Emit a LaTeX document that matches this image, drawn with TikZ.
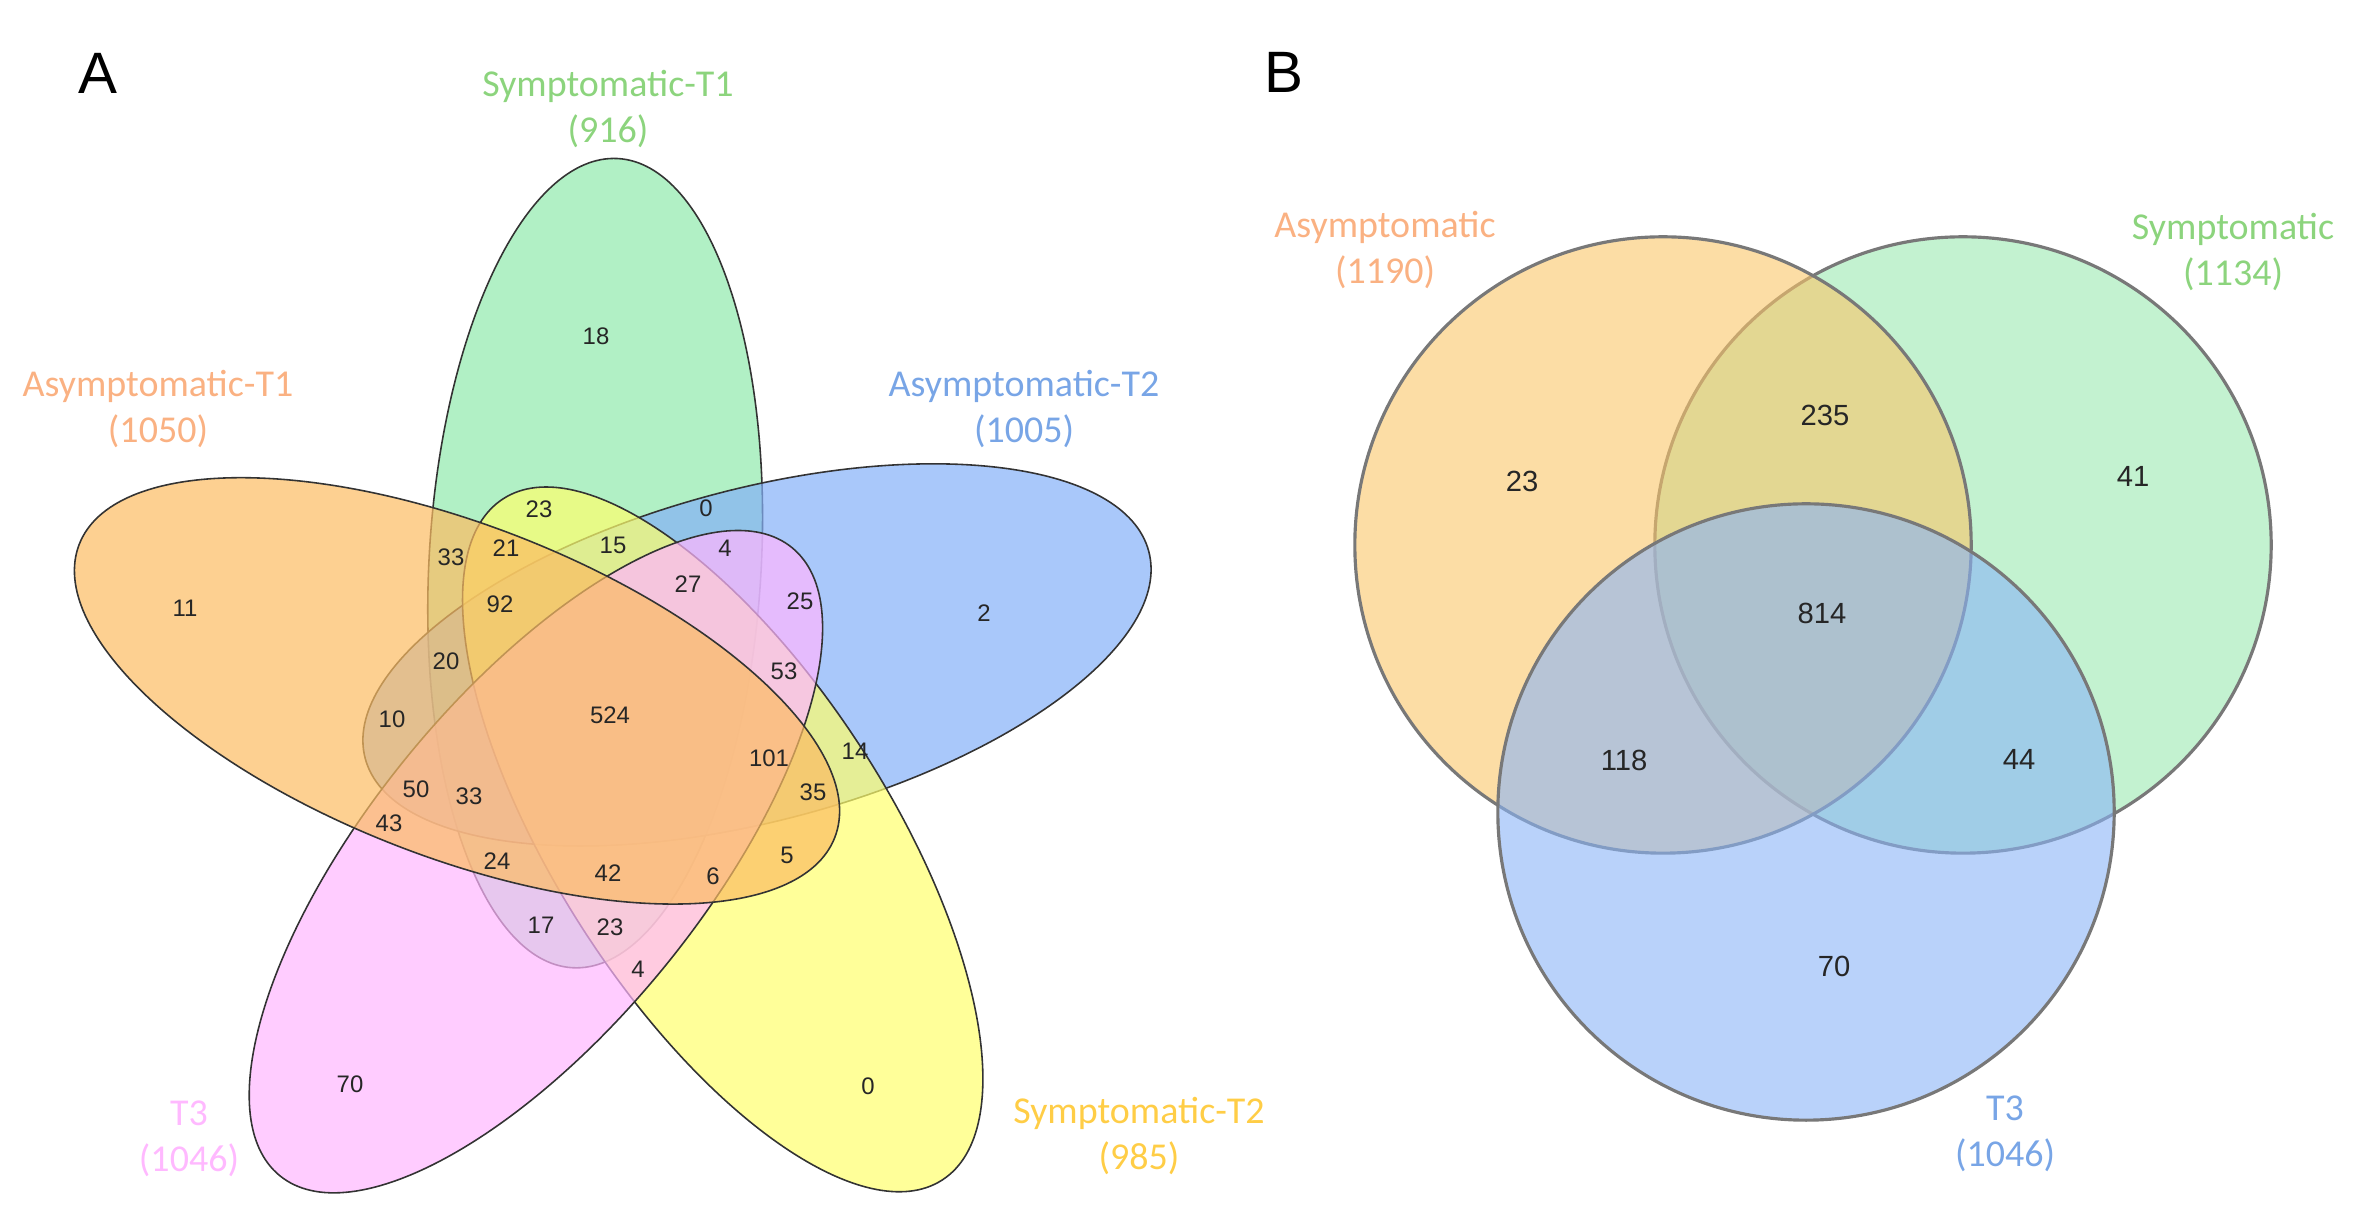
\documentclass[tikz,border=0pt]{standalone}
\usepackage{fontspec}
\setmainfont{Carlito}
\newfontfamily\numfont{Liberation Sans}

\definecolor{asymfill}{RGB}{252,188,98}
\definecolor{symfill}{RGB}{144,234,172}
\definecolor{asymtwofill}{RGB}{132,176,248}
\definecolor{symtwofill}{RGB}{255,255,109}
\definecolor{tthreefill}{RGB}{255,182,255}
\definecolor{asymtext}{RGB}{250,177,130}
\definecolor{symtext}{RGB}{140,212,125}
\definecolor{asymtwotext}{RGB}{120,165,230}
\definecolor{symtwotext}{RGB}{255,205,70}
\definecolor{tthreetext}{RGB}{255,185,255}
\definecolor{borderB}{RGB}{120,120,120}
\definecolor{orangeB}{RGB}{250,198,105}
\definecolor{greenB}{RGB}{155,233,177}
\definecolor{blueB}{RGB}{138,180,247}

\begin{document}
\begin{tikzpicture}[x=0.01cm,y=0.01cm,
    petal/.style={draw=black!80,line width=0.45pt,fill opacity=0.7},
    disc/.style={draw=borderB,line width=0.9pt,fill opacity=0.6},
    setlab/.style={font=\fontsize{10.8}{13.1}\selectfont,align=center},
    cnt/.style={font=\numfont\fontsize{6.8}{8}\selectfont,text=black!85},
    cntB/.style={font=\numfont\fontsize{8.3}{10}\selectfont,text=black!85},
    panel/.style={font=\numfont\fontsize{16.6}{20}\selectfont}]
\useasboundingbox (0,0) rectangle (2355,1222);

% A: five sets
\coordinate (ctrA) at (614,500);
\coordinate (asymT1) at (457.0,531.1);
\coordinate (symT1)  at (595.1,658.9);
\coordinate (asymT2) at (757.0,567.1);
\coordinate (symT2)  at (722.7,382.6);
\coordinate (tthree) at (535.9,360.3);

\draw[petal,fill=symfill,rotate around={86.8:(symT1)}] (symT1) ellipse [x radius=4.05cm,y radius=1.66cm];
\draw[petal,fill=asymtwofill,rotate around={14.8:(asymT2)}] (asymT2) ellipse [x radius=4.05cm,y radius=1.66cm];
\draw[petal,fill=symtwofill,rotate around={-57.2:(symT2)}] (symT2) ellipse [x radius=4.05cm,y radius=1.66cm];
\draw[petal,fill=tthreefill,rotate around={-129.2:(tthree)}] (tthree) ellipse [x radius=4.05cm,y radius=1.66cm];
\draw[petal,fill=asymfill,rotate around={158.8:(asymT1)}] (asymT1) ellipse [x radius=4.05cm,y radius=1.66cm];

\node[panel] (panA) at (98,1149) {A};
\node[setlab,text=symtext] (labSymT1) at (608,1113) {Symptomatic-T1\\(916)};
\node[setlab,text=asymtext] (labAsymT1) at (158,813) {Asymptomatic-T1\\(1050)};
\node[setlab,text=asymtwotext] (labAsymT2) at (1024,813) {Asymptomatic-T2\\(1005)};
\node[setlab,text=tthreetext] (labTthree) at (189,83) {T3\\(1046)};
\node[setlab,text=symtwotext] (labSymT2) at (1139,86) {Symptomatic-T2\\(985)};

\node[cnt] (n18) at (596,886) {18};
\node[cnt] (n11) at (185,614) {11};
\node[cnt] (n2) at (984,609) {2};
\node[cnt] (n70) at (350,138) {70};
\node[cnt] (n0y) at (868,136) {0};
\node[cnt] (n23t) at (539,713) {23};
\node[cnt] (n0b) at (706,714) {0};
\node[cnt] (n33a) at (451,665) {33};
\node[cnt] (n21) at (506,674) {21};
\node[cnt] (n15) at (613,677) {15};
\node[cnt] (n4a) at (725,674) {4};
\node[cnt] (n27) at (688,638) {27};
\node[cnt] (n25) at (800,621) {25};
\node[cnt] (n92) at (500,618) {92};
\node[cnt] (n20) at (446,561) {20};
\node[cnt] (n53) at (784,551) {53};
\node[cnt] (n10) at (392,503) {10};
\node[cnt] (n524) at (610,507) {524};
\node[cnt] (n101) at (769,464) {101};
\node[cnt] (n14) at (855,471) {14};
\node[cnt] (n50) at (416,433) {50};
\node[cnt] (n33b) at (469,426) {33};
\node[cnt] (n35) at (813,430) {35};
\node[cnt] (n43) at (389,399) {43};
\node[cnt] (n24) at (497,361) {24};
\node[cnt] (n42) at (608,349) {42};
\node[cnt] (n6) at (713,346) {6};
\node[cnt] (n5) at (787,367) {5};
\node[cnt] (n17) at (541,297) {17};
\node[cnt] (n23b) at (610,295) {23};
\node[cnt] (n4b) at (638,253) {4};

% B: three sets
\coordinate (asymB) at (1663,677);
\coordinate (symB) at (1963,677);
\coordinate (tthreeB) at (1806,410);

\draw[disc,fill=greenB] (symB) circle [radius=3.08cm];
\draw[disc,fill=orangeB] (asymB) circle [radius=3.08cm];
\draw[disc,fill=blueB] (tthreeB) circle [radius=3.08cm];

\node[panel] (panB) at (1284,1150) {B};
\node[setlab,text=asymtext] (labAsymB) at (1385,972) {Asymptomatic\\(1190)};
\node[setlab,text=symtext] (labSymB) at (2233,970) {Symptomatic\\(1134)};
\node[setlab,text=asymtwotext] (labTthreeB) at (2005,88) {T3\\(1046)};

\node[cntB] (m814) at (1822,609) {814};
\node[cntB] (m235) at (1825,807) {235};
\node[cntB] (m23) at (1522,741) {23};
\node[cntB] (m41) at (2133,746) {41};
\node[cntB] (m118) at (1624,462) {118};
\node[cntB] (m44) at (2019,463) {44};
\node[cntB] (m70) at (1834,256) {70};
\end{tikzpicture}
\end{document}
